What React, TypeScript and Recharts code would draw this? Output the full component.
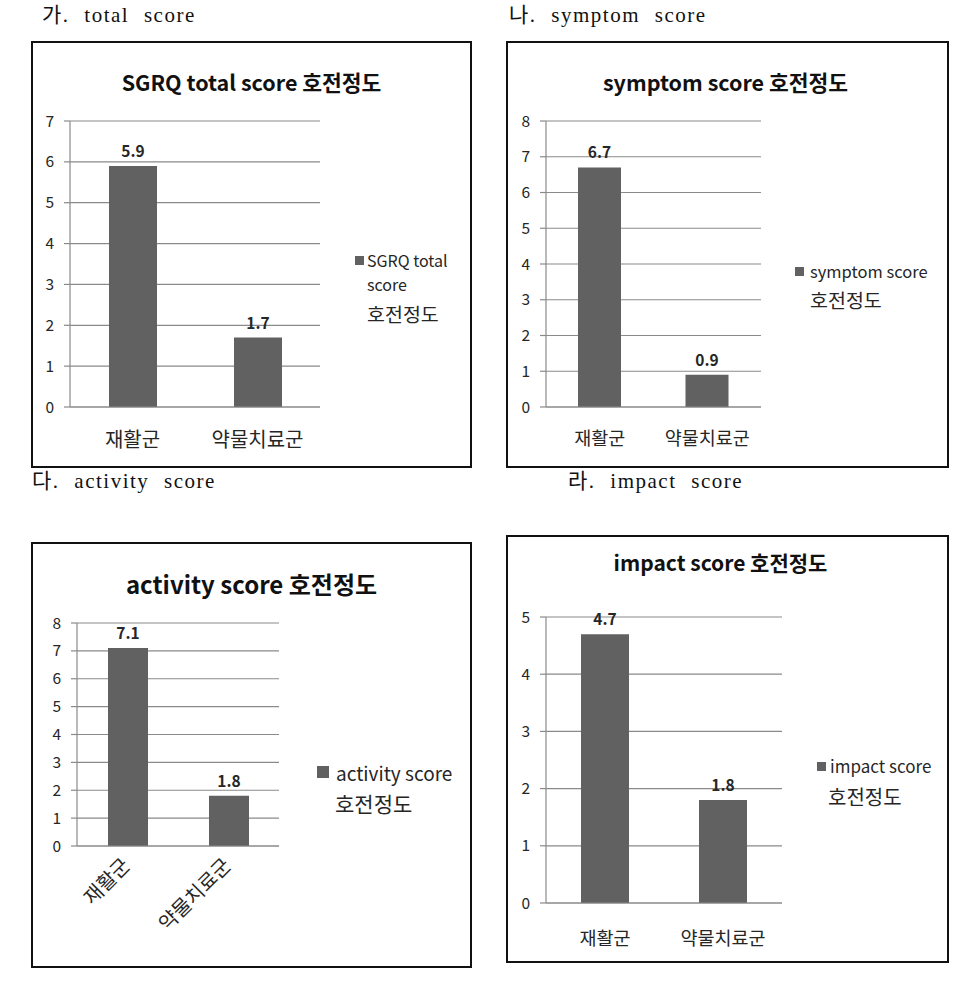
import React from 'react'
import { BarChart, Bar, XAxis, YAxis, CartesianGrid, LabelList } from 'recharts'

// 그룹 / 점수 데이터
const groups = ['재활군', '약물치료군']
const totalScores = [5.9, 1.7]
const symptomScores = [6.7, 0.9]
const activityScores = [7.1, 1.8]
const impactScores = [4.7, 1.8]

const totalTicks = [0, 1, 2, 3, 4, 5, 6, 7]
const symptomTicks = [0, 1, 2, 3, 4, 5, 6, 7, 8]
const activityTicks = [0, 1, 2, 3, 4, 5, 6, 7, 8]
const impactTicks = [0, 1, 2, 3, 4, 5]
const edgeTicks = [0, 1, 2]

const FONT = '"Noto Sans CJK KR", "Noto Sans", sans-serif'
const SERIF = '"Liberation Serif", "DejaVu Serif", "Noto Sans CJK KR", serif'
const BAR = '#616161'
const GRID = '#8a8a8a'
const TEXT = '#262626'

const makeRows = (values: number[]) => groups.map((g, i) => ({ group: g, value: values[i] }))

// 45도 회전 카테고리 라벨
const RotatedTick = ({ x, y, payload }: any) => (
  <text
    x={x}
    y={y}
    transform={`rotate(-45 ${x} ${y})`}
    textAnchor="end"
    dominantBaseline="middle"
    fill={TEXT}
    fontSize={20}
    fontFamily={FONT}
  >
    {payload.value}
  </text>
)

interface PanelProps {
  box: [number, number, number, number]
  title: string
  titleTop: number
  titleSize: number
  titleShift?: number
  values: number[]
  ticks: number[]
  margin: { top: number; right: number; bottom: number; left: number }
  xHeight: number
  catSize: number
  catMargin: number
  barSize: number
  rotated?: boolean
  legendLines: { text: string; size: number; x: number; y: number }[]
  legendSquare: { x: number; y: number; s: number }
}

function Panel(p: PanelProps) {
  const [left, top, width, height] = p.box
  const max = p.ticks[p.ticks.length - 1]
  return (
    <div
      style={{
        position: 'absolute',
        left,
        top,
        width,
        height,
        border: '2px solid #111',
        boxSizing: 'border-box',
        background: '#fff',
      }}
    >
      <div style={{ position: 'absolute', left: -2, top: -2 }}>
        <BarChart width={width} height={height} data={makeRows(p.values)} margin={p.margin}>
          <CartesianGrid vertical={false} stroke={GRID} strokeWidth={1.2} />
          <XAxis
            xAxisId="aEdge"
            type="number"
            domain={[0, 2]}
            ticks={edgeTicks}
            allowDataOverflow
            height={1}
            tick={false}
            tickSize={6}
            axisLine={{ stroke: GRID, strokeWidth: 1.2 }}
            tickLine={{ stroke: GRID, strokeWidth: 1.2 }}
          />
          <XAxis
            xAxisId="bCat"
            dataKey="group"
            height={p.xHeight}
            axisLine={false}
            tickLine={false}
            interval={0}
            tickMargin={p.catMargin}
            tick={p.rotated ? <RotatedTick /> : { fill: TEXT, fontSize: p.catSize, fontFamily: FONT }}
          />
          <YAxis
            width={30}
            domain={[0, max]}
            ticks={p.ticks}
            interval={0}
            tickSize={6}
            tickMargin={10}
            axisLine={{ stroke: GRID, strokeWidth: 1.2 }}
            tickLine={{ stroke: GRID, strokeWidth: 1.2 }}
            tick={{ fill: TEXT, fontSize: 15.5, fontFamily: FONT }}
          />
          <Bar xAxisId="bCat" dataKey="value" fill={BAR} barSize={p.barSize} isAnimationActive={false}>
            <LabelList
              dataKey="value"
              position="top"
              offset={9}
              fill={TEXT}
              fontSize={15.5}
              fontWeight={700}
              fontFamily={FONT}
            />
          </Bar>
        </BarChart>
      </div>
      <div
        style={{
          position: 'absolute',
          left: p.titleShift || 0,
          right: 0,
          top: p.titleTop,
          textAlign: 'center',
          fontFamily: FONT,
          fontWeight: 700,
          fontSize: p.titleSize,
          color: '#111',
          lineHeight: '24px',
          whiteSpace: 'nowrap',
        }}
      >
        {p.title}
      </div>
      <div
        style={{
          position: 'absolute',
          left: p.legendSquare.x - left,
          top: p.legendSquare.y - top,
          width: p.legendSquare.s,
          height: p.legendSquare.s,
          background: BAR,
        }}
      />
      {p.legendLines.map((l, i) => (
        <div
          key={i}
          style={{
            position: 'absolute',
            left: l.x - left,
            top: l.y - top - 12,
            lineHeight: '24px',
            fontSize: l.size,
            fontFamily: FONT,
            color: TEXT,
            whiteSpace: 'nowrap',
          }}
        >
          {l.text}
        </div>
      ))}
    </div>
  )
}

const headingStyle = (x: number, y: number): React.CSSProperties => ({
  position: 'absolute',
  left: x,
  top: y - 13,
  fontFamily: SERIF,
  fontSize: 21,
  lineHeight: '26px',
  letterSpacing: 1.5,
  color: '#111',
  wordSpacing: 8,
  whiteSpace: 'nowrap',
})

export default function App() {
  return (
    <div style={{ position: 'absolute', left: 0, top: 0, width: 966, height: 992, background: '#fff' }}>
      <div style={headingStyle(42, 15)}>가. total score</div>
      <div style={headingStyle(509, 15)}>나. symptom score</div>
      <div style={headingStyle(32, 481)}>다. activity score</div>
      <div style={headingStyle(568, 481)}>라. impact score</div>

      <Panel
        box={[31, 41, 441, 427]}
        title="SGRQ total score 호전정도"
        titleTop={27}
        titleSize={21.5}
        values={totalScores}
        ticks={totalTicks}
        margin={{ top: 80, right: 152, bottom: 30, left: 9 }}
        xHeight={30}
        catSize={20}
        catMargin={19}
        barSize={48}
        legendSquare={{ x: 353, y: 254, s: 9 }}
        legendLines={[
          { text: 'SGRQ total', size: 16, x: 365, y: 258 },
          { text: 'score', size: 16, x: 365, y: 282 },
          { text: '호전정도', size: 19.5, x: 365, y: 312 },
        ]}
      />
      <Panel
        box={[506, 41, 443, 427]}
        title="symptom score 호전정도"
        titleTop={27}
        titleSize={21.5}
        titleShift={-4}
        values={symptomScores}
        ticks={symptomTicks}
        margin={{ top: 80, right: 188, bottom: 30, left: 10 }}
        xHeight={30}
        catSize={18.5}
        catMargin={18}
        barSize={43}
        legendSquare={{ x: 793, y: 265, s: 9 }}
        legendLines={[
          { text: 'symptom score', size: 16.5, x: 808, y: 269 },
          { text: '호전정도', size: 19.5, x: 808, y: 298 },
        ]}
      />
      <Panel
        box={[31, 542, 441, 426]}
        title="activity score 호전정도"
        titleTop={28}
        titleSize={24}
        values={activityScores}
        ticks={activityTicks}
        margin={{ top: 81, right: 193, bottom: 41, left: 16 }}
        xHeight={80}
        catSize={20}
        catMargin={10}
        barSize={40}
        rotated
        legendSquare={{ x: 315, y: 764, s: 12 }}
        legendLines={[
          { text: 'activity score', size: 19, x: 334, y: 771 },
          { text: '호전정도', size: 21, x: 333, y: 801 },
        ]}
      />
      <Panel
        box={[506, 535, 443, 428]}
        title="impact score 호전정도"
        titleTop={13}
        titleSize={21}
        titleShift={-14}
        values={impactScores}
        ticks={impactTicks}
        margin={{ top: 82, right: 167, bottom: 29, left: 10 }}
        xHeight={30}
        catSize={18.5}
        catMargin={22}
        barSize={48}
        legendSquare={{ x: 815, y: 760, s: 9 }}
        legendLines={[
          { text: 'impact score', size: 17, x: 828, y: 764 },
          { text: '호전정도', size: 20, x: 826, y: 795 },
        ]}
      />
    </div>
  )
}
